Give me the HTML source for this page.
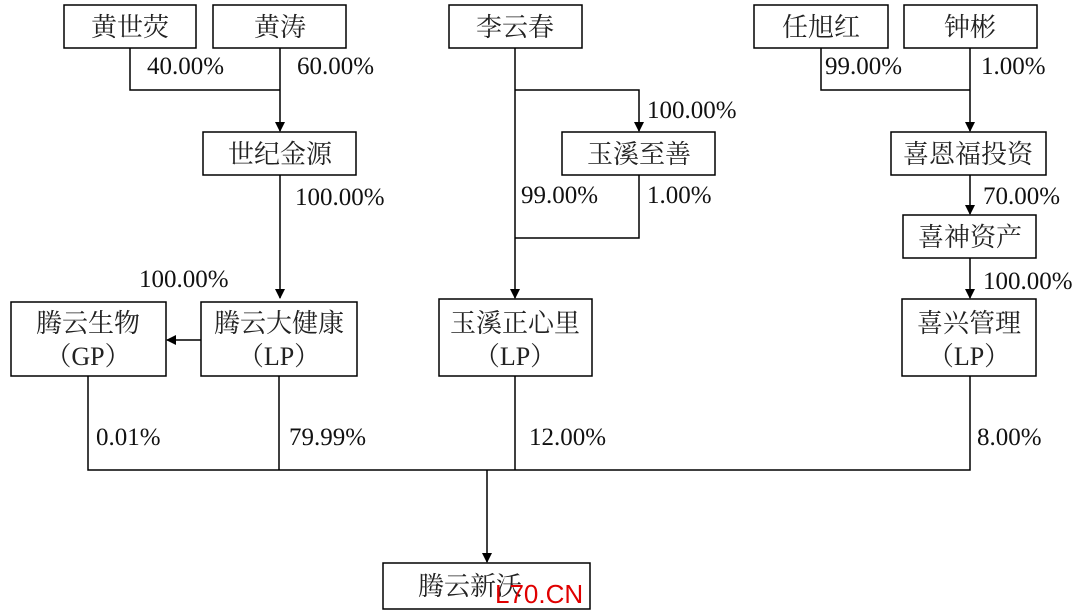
<!DOCTYPE html>
<html><head><meta charset="utf-8"><style>
html,body{margin:0;padding:0;background:#fff;}
svg{display:block;}
.b{fill:#fff;stroke:#000;stroke-width:1.5;}
.l{stroke:#000;stroke-width:1.5;fill:none;}
.c{font-family:"Liberation Serif","Noto Serif CJK SC",serif;font-size:26px;fill:#222;text-anchor:middle;}
.p{font-family:"Liberation Serif","Noto Serif CJK SC",serif;font-size:25px;fill:#111;}
</style></head><body>
<svg width="1080" height="614" viewBox="0 0 1080 614" xmlns="http://www.w3.org/2000/svg">
<defs><marker id="a" markerWidth="10" markerHeight="10" refX="9" refY="5" orient="auto" markerUnits="userSpaceOnUse"><path d="M0,0 L10,5 L0,10 z" fill="#000"/></marker></defs>
<path class="l" d="M130,48 V90 H280"/>
<path class="l" d="M280,48 V131" marker-end="url(#a)"/>
<path class="l" d="M280,175 V298" marker-end="url(#a)"/>
<path class="l" d="M201,340 H167" marker-end="url(#a)"/>
<path class="l" d="M515,48 V298" marker-end="url(#a)"/>
<path class="l" d="M515,90 H639 V131" marker-end="url(#a)"/>
<path class="l" d="M639,175 V238 H515"/>
<path class="l" d="M821,48 V90 H970"/>
<path class="l" d="M970,48 V131" marker-end="url(#a)"/>
<path class="l" d="M970,175 V214" marker-end="url(#a)"/>
<path class="l" d="M970,258 V298" marker-end="url(#a)"/>
<path class="l" d="M88,376 V470 H970 V376 M279,376 V470 M515,376 V470"/>
<path class="l" d="M487,470 V562" marker-end="url(#a)"/>
<rect class="b" x="64" y="5" width="132" height="43"/><text class="c" x="130" y="36">黄世荧</text>
<rect class="b" x="213" y="5" width="133" height="43"/><text class="c" x="280" y="36">黄涛</text>
<rect class="b" x="203" y="132" width="153" height="43"/><text class="c" x="280" y="163">世纪金源</text>
<rect class="b" x="449" y="5" width="133" height="43"/><text class="c" x="515" y="36">李云春</text>
<rect class="b" x="562" y="132" width="153" height="43"/><text class="c" x="639" y="163">玉溪至善</text>
<rect class="b" x="754" y="5" width="134" height="43"/><text class="c" x="821" y="36">任旭红</text>
<rect class="b" x="904" y="5" width="133" height="43"/><text class="c" x="970" y="36">钟彬</text>
<rect class="b" x="891" y="132" width="155" height="43"/><text class="c" x="968" y="163">喜恩福投资</text>
<rect class="b" x="903" y="215" width="133" height="43"/><text class="c" x="970" y="246">喜神资产</text>
<rect class="b" x="11" y="302" width="155" height="74"/><text class="c" x="88" y="332">腾云生物</text><text class="c" x="88" y="365">（GP）</text>
<rect class="b" x="201" y="302" width="156" height="74"/><text class="c" x="279" y="332">腾云大健康</text><text class="c" x="279" y="365">（LP）</text>
<rect class="b" x="439" y="299" width="153" height="77"/><text class="c" x="515" y="332">玉溪正心里</text><text class="c" x="515" y="365">（LP）</text>
<rect class="b" x="902" y="299" width="134" height="77"/><text class="c" x="969" y="332">喜兴管理</text><text class="c" x="969" y="365">（LP）</text>
<rect class="b" x="383" y="563" width="207" height="46"/><text class="c" x="470" y="595">腾云新沃</text>
<text class="p" x="147" y="74">40.00%</text>
<text class="p" x="297" y="74">60.00%</text>
<text class="p" x="295" y="205">100.00%</text>
<text class="p" x="139" y="287">100.00%</text>
<text class="p" x="647" y="118">100.00%</text>
<text class="p" x="521" y="203">99.00%</text>
<text class="p" x="647" y="203">1.00%</text>
<text class="p" x="825" y="74">99.00%</text>
<text class="p" x="981" y="74">1.00%</text>
<text class="p" x="983" y="204">70.00%</text>
<text class="p" x="983" y="289">100.00%</text>
<text class="p" x="96" y="445">0.01%</text>
<text class="p" x="289" y="445">79.99%</text>
<text class="p" x="529" y="445">12.00%</text>
<text class="p" x="977" y="445">8.00%</text>
<text x="495" y="603" font-family="Liberation Sans,sans-serif" font-size="26" fill="#e00000">L70.CN</text>
</svg>
</body></html>
